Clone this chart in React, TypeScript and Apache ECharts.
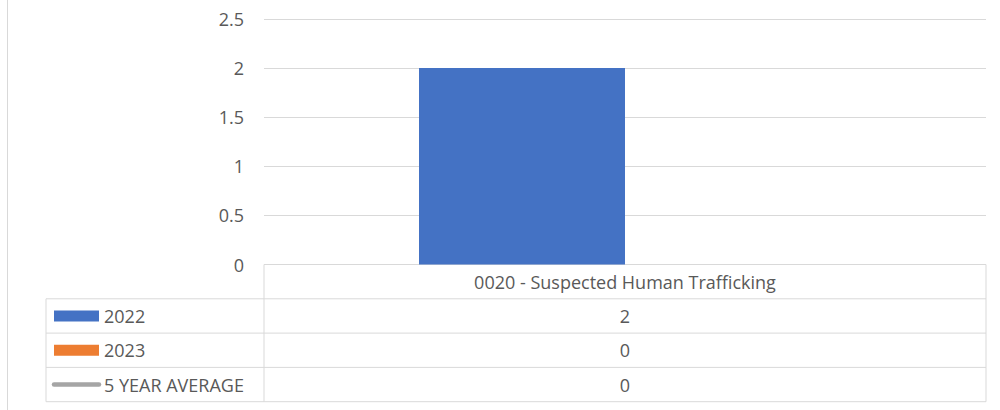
import React, { useEffect, useRef } from "react";
import * as echarts from "echarts";

const categories = ["0020 - Suspected Human Trafficking"];
const seriesNames = ["2022", "2023", "5 YEAR AVERAGE"];
const values2022 = [2];
const values2023 = [0];
const valuesAvg = [0];
const yTicks = { min: 0, max: 2.5, interval: 0.5 };

const colors = ["#4472C4", "#ED7D31", "#A5A5A5"];
const FONT = "'Open Sans', sans-serif";
const FS = 18;
const TEXT = "#595959";
const LINE = "#D9D9D9";

export default function App() {
  const ref = useRef<HTMLDivElement>(null);
  useEffect(() => {
    if (!ref.current) return;
    const chart = echarts.init(ref.current, undefined, { renderer: "svg" });
    const plotLeft = 264;
    const plotRight = 986;
    const plotTop = 19;
    const axisY = 264.5;
    const tableLeft = 46;
    const rowH = 34.3;
    const allValues = [values2022, values2023, valuesAvg];
    const rowTops = seriesNames.map((_, i) => axisY + rowH * (i + 1));
    const tableBottom = axisY + rowH * (seriesNames.length + 1);
    const center = (plotLeft + plotRight) / 2;

    const graphics: any[] = [];
    const ln = (x1: number, y1: number, x2: number, y2: number) =>
      graphics.push({
        type: "line",
        shape: { x1, y1, x2, y2 },
        style: { stroke: LINE, lineWidth: 1 },
        silent: true,
      });
    // outer chart-area border on the left
    ln(7.5, 0, 7.5, 410);
    // table
    ln(plotLeft, axisY, plotRight, axisY);
    rowTops.forEach((y) => ln(tableLeft, y, plotRight, y));
    ln(tableLeft, tableBottom, plotRight, tableBottom);
    ln(tableLeft, rowTops[0], tableLeft, tableBottom);
    ln(plotLeft, axisY, plotLeft, tableBottom);
    ln(plotRight, axisY, plotRight, tableBottom);

    seriesNames.forEach((name, i) => {
      const cy = rowTops[i] + rowH / 2;
      if (i < 2) {
        graphics.push({
          type: "rect",
          shape: { x: 54, y: cy - 5.5, width: 45, height: 11 },
          style: { fill: colors[i] },
          silent: true,
        });
      } else {
        graphics.push({
          type: "line",
          shape: { x1: 54, y1: cy, x2: 99, y2: cy },
          style: { stroke: colors[i], lineWidth: 4.5, lineCap: "round" },
          silent: true,
        });
      }
      graphics.push({
        type: "text",
        x: 104,
        y: cy,
        style: {
          text: name,
          fill: TEXT,
          font: `${FS}px ${FONT}`,
          textVerticalAlign: "middle",
          textAlign: "left",
        },
        silent: true,
      });
      graphics.push({
        type: "text",
        x: center,
        y: cy,
        style: {
          text: String(allValues[i][0]),
          fill: TEXT,
          font: `${FS}px ${FONT}`,
          textVerticalAlign: "middle",
          textAlign: "center",
        },
        silent: true,
      });
    });

    chart.setOption({
      animation: false,
      grid: {
        left: plotLeft,
        right: 1000 - plotRight,
        top: plotTop,
        bottom: 410 - axisY,
        containLabel: false,
      },
      xAxis: {
        type: "category",
        data: categories,
        axisLine: { show: false },
        axisTick: { show: false },
        axisLabel: {
          margin: 8,
          color: TEXT,
          fontFamily: FONT,
          fontSize: FS,
        },
      },
      yAxis: {
        type: "value",
        min: yTicks.min,
        max: yTicks.max,
        interval: yTicks.interval,
        axisLine: { show: false },
        axisTick: { show: false },
        axisLabel: {
          margin: 20,
          color: TEXT,
          fontFamily: FONT,
          fontSize: FS,
        },
        splitLine: { lineStyle: { color: LINE, width: 1 } },
      },
      series: [
        {
          name: seriesNames[0],
          type: "bar",
          data: values2022,
          barWidth: 206,
          barGap: "0%",
          itemStyle: { color: colors[0] },
        },
        {
          name: seriesNames[1],
          type: "bar",
          data: values2023,
          barWidth: 206,
          barGap: "0%",
          itemStyle: { color: colors[1] },
        },
        {
          name: seriesNames[2],
          type: "line",
          data: valuesAvg,
          showSymbol: false,
          lineStyle: { color: colors[2], width: 3 },
          itemStyle: { color: colors[2] },
        },
      ],
      graphic: graphics,
    });
    return () => chart.dispose();
  }, []);
  return (
    <div
      ref={ref}
      style={{ position: "fixed", left: 0, top: 0, width: 1000, height: 410, background: "#fff" }}
    />
  );
}
